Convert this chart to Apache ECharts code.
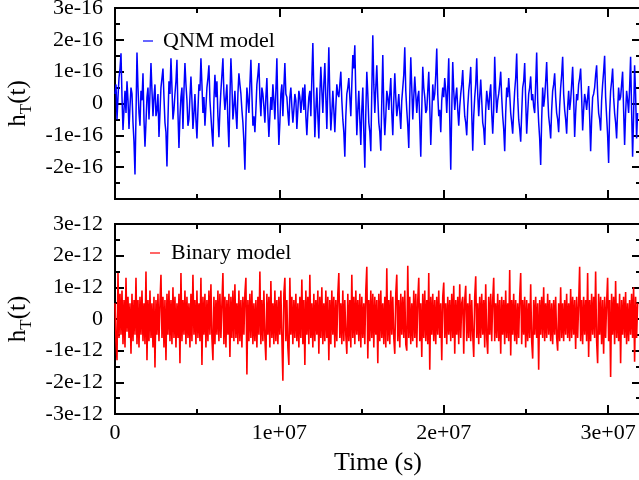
<!DOCTYPE html>
<html><head><meta charset="utf-8">
<script src="https://cdn.jsdelivr.net/npm/echarts@6/dist/echarts.min.js"></script>
<style>html,body{margin:0;padding:0;background:#fff}#c{width:639px;height:480px}</style>
</head><body><div id="c"></div>
<script>
// QNM model strain, units of 1e-16 (one sample every sampleStep seconds)
const qnmValues = [
0.3,0.6,-0.5,0.2,0.8,1.1,1.58,0.2,-0.83,-0.2,0.4,-0.3,0.7,0.1,-0.8,-0.1,0.5,0.3,-0.6,-1.2,
-2.23,-0.4,1.6,0.5,-0.3,-0.7,0.4,0.1,0.95,-0.5,-1.36,-0.6,0.2,0.5,-0.5,0.3,1.27,0.4,-0.4,0.2,
0.6,-0.4,-0.2,0.3,-1.05,-0.3,0.5,0.8,1.1,0.2,-0.6,-0.9,-1.98,-0.5,0.7,0.3,1.42,0.5,-0.5,-0.2,
0.3,0.7,1.37,-0.3,-1.4,-0.4,0.2,0.5,-0.8,0.4,1.27,0.6,0.1,-0.7,-0.5,0.2,0.85,0.1,-0.8,-0.3,
0.3,-0.5,-1.1,-0.2,0.6,0.4,1.42,0.6,-0.3,0.2,-0.7,-0.1,0.5,0.8,1.2,0.1,-0.4,-0.9,-1.36,0.1,
0.9,0.2,0.7,-0.4,-1.06,-0.2,0.4,0.9,1.42,0.3,-0.2,0.2,0.6,-0.6,-1.37,0.2,1.42,0.6,-0.5,-0.1,
0.4,-0.3,-0.8,0.3,0.95,0.6,0.3,-0.2,-0.6,-1.2,-2.08,-0.6,0.5,0.1,-0.3,0.6,1.37,0.3,-0.7,-0.4,
-0.9,-0.2,0.6,0.9,1.27,0.2,-0.4,0.5,0.3,-0.1,-0.6,0.2,0.8,-0.3,-1.05,-0.4,0.2,-0.2,0.6,0.1,
-0.5,0.4,1.42,-0.2,-1.3,-0.6,0.3,0.6,-0.4,0.5,1.27,0.3,0.2,-0.3,-0.7,0.2,0.5,-0.1,-0.6,-0.2,
0.3,0.1,-0.8,-0.2,0.4,0.2,-0.3,0.1,0.5,-0.2,0.6,-0.4,-1.0,-0.3,0.2,0.4,-0.4,0.8,1.9,0.3,
-1.06,-0.2,0.5,-0.4,-1.1,0.3,1.15,0.4,-0.3,0.6,1.27,0.2,-0.8,0.5,1.77,0.2,-0.85,-0.3,0.4,-0.2,
-0.9,-0.1,0.6,0.3,0.2,0.6,1.0,0.1,-0.5,-0.9,-1.67,-0.4,0.3,0.5,0.8,0.2,-0.4,0.6,1.52,1.1,
1.83,0.3,-1.0,-0.2,0.4,-0.5,-1.3,-0.2,0.5,-0.9,-2.02,-0.3,1.0,0.3,-0.6,-0.9,-1.5,0.4,2.14,0.6,
-0.3,0.5,1.2,0.2,-0.6,-0.9,-1.48,0.1,1.52,-0.2,-1.0,-0.4,0.4,0.2,-0.2,0.3,0.8,-0.3,-1.0,0.1,
0.95,0.2,-0.4,-0.1,0.3,-0.3,-0.8,0.1,0.5,0.9,1.77,0.4,-0.2,-0.7,-1.4,0.2,1.45,0.5,-0.5,0.2,
0.85,0.3,-0.3,0.2,0.4,-0.6,-1.67,-0.2,1.15,0.5,0.2,-0.3,-0.2,0.4,1.0,-0.1,-1.3,-0.4,0.6,0.1,
0.3,0.9,1.73,0.3,-0.4,-0.2,-0.9,0.1,0.5,0.2,0.8,0.4,-0.3,0.5,1.42,-0.5,-2.08,-0.2,1.3,0.4,
-0.2,0.2,0.5,-0.2,-0.7,-0.1,0.3,0.6,1.05,0.2,-0.4,-0.6,-1.0,-0.1,0.4,0.7,1.15,-0.3,-1.48,-0.4,
0.2,0.6,1.42,0.3,-0.4,0.2,0.75,0.1,-0.6,-0.8,-1.3,-0.2,0.4,0.1,-0.2,0.3,0.6,-0.3,-0.95,-0.2,
1.47,0.4,-0.3,0.1,0.3,0.6,1.0,0.2,-0.4,-0.8,-1.5,-0.3,0.5,0.2,0.8,0.3,-0.3,-0.6,-0.95,-0.2,
0.4,0.8,1.57,0.2,-0.5,-0.8,-1.2,-0.3,0.5,0.7,1.27,0.1,-0.95,-0.3,0.3,0.5,0.85,0.1,0.3,-0.1,
-0.3,0.6,1.6,0.1,-0.6,-1.1,-1.93,-0.5,0.5,-0.1,0.2,0.7,1.3,0.3,-0.4,-0.7,-1.1,-0.2,0.4,0.6,
0.95,0.2,-0.3,-0.5,-0.9,-0.1,0.5,0.9,1.47,0.3,-0.2,-0.5,-0.95,-0.1,0.4,-0.2,0.1,0.6,1.15,0.2,
-1.05,-0.3,0.3,0.1,0.6,0.8,1.1,0.2,-0.85,-0.2,0.3,0.1,-0.2,0.2,0.55,-0.4,-1.5,-0.5,0.2,0.3,
0.5,0.9,1.2,0.3,-0.3,-0.5,-0.85,0.1,0.6,1.0,1.5,0.2,-0.4,-1.0,-1.87,-0.3,0.4,0.7,1.1,0.2,
-0.3,-0.6,-1.1,-0.2,0.5,0.1,0.2,0.6,1.0,-0.2,-1.3,-0.3,0.4,0.1,-0.3,0.5,1.47,-0.2,-1.67,-0.4,
1.2,0.3,-1.1,-0.3
];
// Binary model strain, units of 1e-12 (one sample every sampleStep seconds)
const binaryValues = [
0.5,-0.7,-1.3,1.45,-0.6,0.8,-0.5,0.9,-0.8,0.6,-0.9,1.3,-0.4,0.7,-0.6,0.5,-1.1,0.8,-0.7,0.6,
-0.5,1.3,-0.8,0.6,-0.9,0.7,-0.5,0.9,-0.7,0.5,-0.8,1.5,-1.3,0.6,-0.7,0.9,-0.6,0.5,-0.9,0.7,
-1.53,0.6,-0.5,0.8,-0.7,0.5,1.4,-0.6,0.7,-0.9,0.6,-1.3,0.8,-0.5,0.9,-0.7,0.6,-0.8,1.0,-0.6,
0.7,-0.9,0.5,-0.6,0.8,-1.4,1.45,-0.7,0.6,-0.5,0.9,-0.8,0.7,-0.6,0.5,-0.9,0.8,-0.7,1.4,-0.5,
0.6,-0.8,0.9,-0.6,0.5,-0.7,1.3,-1.45,0.7,-0.5,0.8,-0.9,0.6,-0.7,0.9,-0.5,1.1,-0.6,-1.3,0.7,
-0.8,0.6,-0.5,0.9,-0.7,0.8,-0.6,0.5,1.45,-0.8,0.7,-0.9,0.6,-0.5,0.8,-1.2,0.7,-0.6,0.9,-0.7,
1.1,-0.6,0.5,-0.8,0.9,-0.7,0.6,-0.9,0.7,-0.5,0.8,1.3,-1.75,0.6,-0.7,0.8,-0.6,0.9,-0.8,0.5,
-0.7,0.6,-0.9,0.7,-0.5,1.5,-0.8,0.6,-0.7,0.9,-0.6,-1.3,0.8,-0.5,0.7,-0.9,1.2,-0.6,0.5,-0.8,
0.9,-0.7,0.6,-0.8,0.7,-0.5,0.9,-0.6,-1.95,0.8,1.3,-0.7,0.6,-0.9,-1.45,1.3,-0.5,0.7,-0.8,0.6,
-0.6,0.8,-0.7,0.5,-0.9,0.7,-0.6,1.25,-0.8,0.6,-1.45,0.9,-0.5,0.7,-0.8,1.4,-0.6,0.5,-0.9,0.8,
-0.7,0.6,-0.5,0.9,-1.1,0.7,-0.6,1.0,-0.8,0.5,-0.7,0.9,-0.6,0.7,-1.3,0.6,-0.8,0.9,-0.5,0.7,
-0.9,0.6,-0.7,0.8,1.45,-0.6,0.5,-0.8,0.9,-0.7,0.6,-0.5,-1.1,0.8,-0.7,0.6,-0.9,1.4,-0.6,0.7,
-0.8,0.9,-0.5,0.6,-0.7,0.8,-0.9,0.7,-0.6,0.5,-0.8,0.9,1.65,-1.25,0.6,-0.7,0.9,-0.6,0.8,-0.9,
0.7,-0.5,0.6,-1.4,0.8,-0.7,0.9,-0.6,0.5,-0.8,0.7,-0.9,1.6,-0.7,0.6,-0.8,0.9,-0.5,0.7,-0.6,
-1.1,0.8,1.4,-0.7,0.6,-0.9,0.8,-0.5,0.7,-0.6,0.9,-0.8,-1.0,1.68,-0.6,0.7,-0.8,0.5,-0.7,0.9,
-0.6,0.8,-0.9,0.6,1.3,-0.7,0.5,-1.2,0.8,-0.6,0.9,-0.7,0.6,-0.8,1.45,-1.6,0.7,-0.5,0.8,-0.7,
0.6,-0.8,0.7,-0.5,0.9,-0.6,0.5,-1.3,0.7,1.15,-0.6,0.5,-0.8,0.7,-0.5,0.6,-0.7,0.8,-0.6,1.05,
-1.1,0.6,-0.5,0.7,-0.8,1.1,-0.6,0.5,0.7,-1.1,0.6,1.05,-0.7,0.5,-0.6,0.8,-0.7,0.6,-0.5,-1.2,
0.7,1.35,-0.6,0.5,-0.8,0.7,-0.6,0.8,-0.5,0.6,-0.9,1.1,-0.6,-1.1,0.7,-0.5,0.8,-0.7,0.6,1.3,
-0.7,0.5,-0.6,0.8,-0.7,0.6,-1.1,0.7,-0.5,0.6,-0.8,0.9,-0.6,0.5,-0.7,1.55,-1.15,0.6,-0.5,0.8,
-0.7,0.6,-0.8,0.5,-0.6,0.7,1.45,-0.8,0.6,-0.5,0.7,-0.9,0.6,-0.7,0.5,-0.6,1.1,-0.7,-1.25,0.6,
-0.5,0.7,-0.6,0.5,-1.6,0.6,-0.5,0.7,-0.6,1.0,-0.7,0.5,-0.6,0.8,-0.5,0.6,-0.7,0.5,-0.8,0.6,
-0.5,0.7,-0.6,-1.0,0.5,-0.7,1.0,-0.6,0.5,-0.7,0.6,-0.5,0.8,-0.6,0.5,-0.7,0.95,-0.6,0.7,-0.5,
0.6,-0.95,0.7,-0.6,0.5,1.65,-0.7,0.6,-0.8,0.7,-0.5,0.6,-0.7,1.45,-1.2,0.6,-0.7,0.8,-0.5,0.7,
-0.6,1.5,-0.7,-1.4,0.8,-0.5,0.7,-0.8,0.6,-1.1,0.7,-0.6,0.5,1.3,-0.7,0.6,-1.83,0.8,-0.5,0.7,
-0.8,1.2,-0.6,0.5,-0.7,0.8,-1.4,0.6,-0.5,0.7,-0.6,0.85,-0.8,0.5,-0.7,0.6,-0.5,0.8,-0.6,1.0,
-1.35,0.7,-0.6,0.5
];
const sampleStep = 6.079e4;   // seconds between samples
const seriesNames = ['QNM model', 'Binary model'];
const yExponents = ['e-16', 'e-12'];
const xMax = 3.2e7;

const FONT = 'Liberation Serif';
const black = '#000';

function xAxisDef(grid, pos, interval, len, labels) {
  return {
    type: 'value', gridIndex: grid, position: pos, min: 0, max: xMax, interval: interval,
    axisLine: { show: true, onZero: false, lineStyle: { color: black, width: 2 } },
    axisTick: { show: true, inside: true, length: len, lineStyle: { color: black, width: 2 } },
    splitLine: { show: false },
    axisLabel: {
      show: labels, margin: 8, color: black, fontFamily: FONT, fontSize: 22,
      formatter: function (v) {
        if (v === 0) return '0';
        const k = v / 1e7;
        if (Math.abs(k - Math.round(k)) > 1e-9 || k > 3) return '';
        return Math.round(k) + 'e+07';
      }
    },
    name: (labels ? 'Time (s)' : ''), nameLocation: 'middle', nameGap: 36,
    nameTextStyle: { color: black, fontFamily: FONT, fontSize: 26 }
  };
}
function yAxisDef(grid, pos, labels, exp, hideMin) {
  return {
    type: 'value', gridIndex: grid, position: pos, min: -3, max: 3, interval: 1,
    axisLine: { show: true, onZero: false, lineStyle: { color: black, width: 2 } },
    axisTick: { show: true, inside: true, length: 9, lineStyle: { color: black, width: 2 } },
    minorTick: { show: true, splitNumber: 2, length: 5, lineStyle: { color: black, width: 2 } },
    splitLine: { show: false }, minorSplitLine: { show: false },
    axisLabel: {
      show: labels, margin: 12, color: black, fontFamily: FONT, fontSize: 22,
      formatter: function (v) {
        if (v === 0) return '0';
        if (hideMin && v === -3) return '';
        return v + exp;
      }
    },
    name: labels ? '{a|h}{s|T}{a|(t)}' : '', nameLocation: 'middle', nameRotate: 90, nameGap: 75,
    nameTextStyle: {
      rich: {
        a: { fontFamily: FONT, fontSize: 25, color: black },
        s: { fontFamily: FONT, fontSize: 17, color: black, lineHeight: 17, padding: [16, 0, 0, 0] }
      }
    }
  };
}

const chart = echarts.init(document.getElementById('c'), null, { renderer: 'canvas' });
chart.setOption({
  animation: false,
  backgroundColor: '#fff',
  grid: [
    { left: 115, right: -2, top: 8, height: 191, containLabel: false, outerBoundsMode: 'none' },
    { left: 115, right: -2, top: 224, height: 190, containLabel: false, outerBoundsMode: 'none' }
  ],
  legend: [
    { data: [seriesNames[0]], left: 138, top: 25, icon: 'rect', itemWidth: 10, itemHeight: 1.2, selectedMode: false,
      textStyle: { fontFamily: FONT, fontSize: 22, color: black, padding: [0, 0, 0, 5] } },
    { data: [seriesNames[1]], left: 145, top: 237, icon: 'rect', itemWidth: 10, itemHeight: 1.2, selectedMode: false,
      textStyle: { fontFamily: FONT, fontSize: 22, color: black, padding: [0, 0, 0, 6] } }
  ],
  xAxis: [
    xAxisDef(0, 'bottom', 1e7, 9, false),
    xAxisDef(0, 'bottom', 5e6, 5, false),
    xAxisDef(0, 'top', 1e7, 9, false),
    xAxisDef(0, 'top', 5e6, 5, false),
    xAxisDef(1, 'bottom', 1e7, 9, true),
    xAxisDef(1, 'bottom', 5e6, 5, false),
    xAxisDef(1, 'top', 1e7, 9, false),
    xAxisDef(1, 'top', 5e6, 5, false)
  ],
  yAxis: [
    yAxisDef(0, 'left', true, yExponents[0], true),
    yAxisDef(0, 'right', false, yExponents[0], false),
    yAxisDef(1, 'left', true, yExponents[1], false),
    yAxisDef(1, 'right', false, yExponents[1], false)
  ],
  series: [
    { name: seriesNames[0], type: 'line', xAxisIndex: 0, yAxisIndex: 0, showSymbol: false, symbol: 'none',
      color: '#0000ff', lineStyle: { color: '#0000ff', width: 1.5 }, sampling: 'none',
      data: qnmValues.map(function (v, i) { return [i * sampleStep, v]; }) },
    { name: seriesNames[1], type: 'line', xAxisIndex: 4, yAxisIndex: 2, showSymbol: false, symbol: 'none',
      color: '#ff0000', lineStyle: { color: '#ff0000', width: 1.6 }, sampling: 'none',
      data: binaryValues.map(function (v, i) { return [i * sampleStep, v]; }) }
  ]
});
</script>
</body></html>
